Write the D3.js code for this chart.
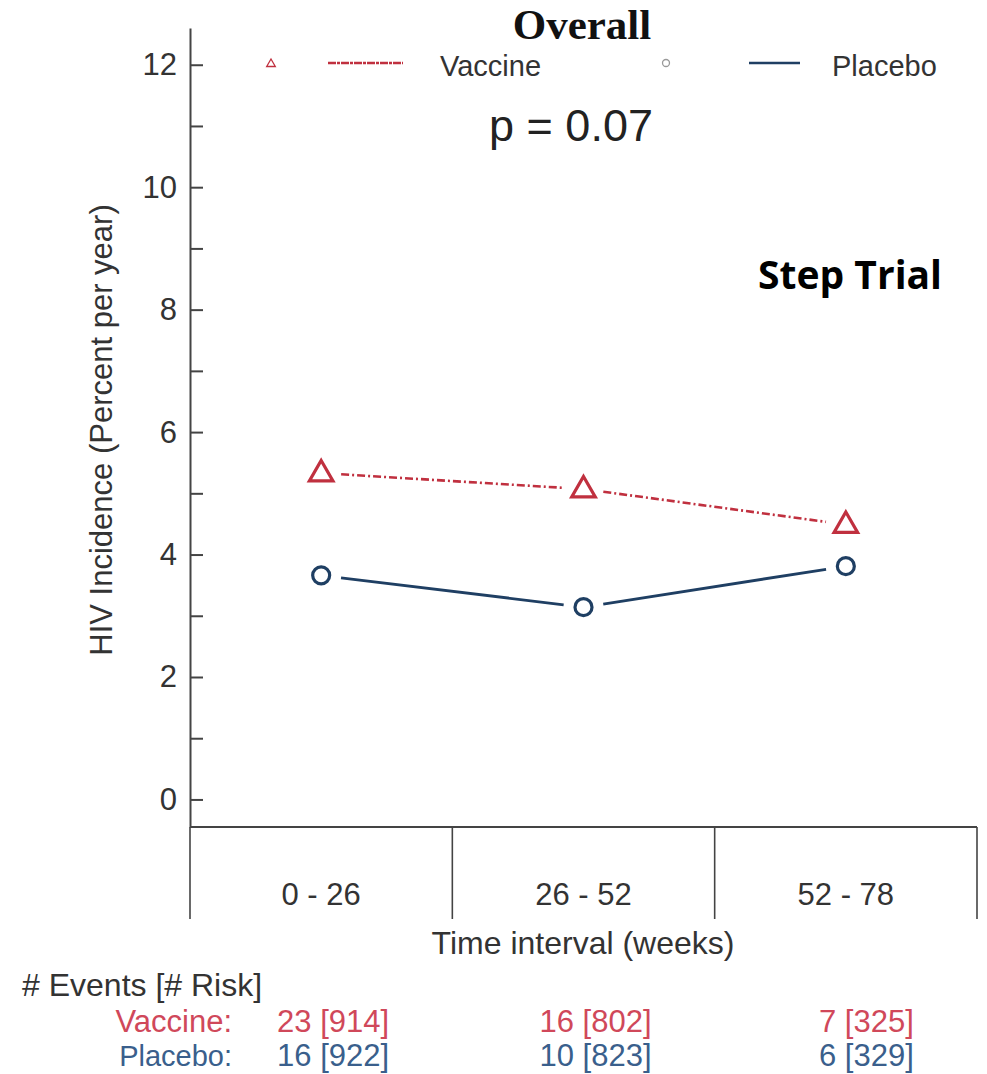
<!DOCTYPE html>
<html>
<head>
<meta charset="utf-8">
<script src="https://cdn.jsdelivr.net/npm/d3@7"></script>
<style>
  body { margin: 0; background: #fff; }
</style>
</head>
<body>
<div id="chart"></div>
<script>
(function() {
  // data
  var intervals = ["0 - 26", "26 - 52", "52 - 78"];
  var vaccineRate = [5.33, 5.07, 4.49];
  var placeboRate = [3.66, 3.14, 3.81];
  var vaccineCounts = ["23 [914]", "16 [802]", "7 [325]"];
  var placeboCounts = ["16 [922]", "10 [823]", "6 [329]"];
  var majorTicks = [0, 2, 4, 6, 8, 10, 12];
  var minorTicks = [1, 3, 5, 7, 9, 11];

  var width = 987, height = 1074;
  var red = "#c0303f", blue = "#1f3f63", axisCol = "#444";
  var vText = "#d0485a", pText = "#3a5f8c";

  var svg = d3.select("#chart")
    .append("svg")
    .attr("width", width)
    .attr("height", height)
    .attr("font-family", "Liberation Sans, Arial, sans-serif");

  var y = d3.scaleLinear().domain([-0.45, 12.6]).range([827, 28]);
  var x = d3.scaleBand().domain(intervals).range([190, 977]).padding(0);
  var cx = function(d) { return x(d) + x.bandwidth() / 2; };

  // y axis, ticks pointing inward
  var yAxis = svg.append("g")
    .attr("transform", "translate(190,0)")
    .call(d3.axisLeft(y).tickValues(majorTicks).tickSizeInner(-13).tickSizeOuter(0).tickPadding(13));
  yAxis.select(".domain").attr("stroke", axisCol).attr("stroke-width", 2);
  yAxis.selectAll(".tick line").attr("stroke", axisCol).attr("stroke-width", 2);
  yAxis.selectAll(".tick text")
    .attr("font-family", "Liberation Sans, Arial, sans-serif")
    .attr("font-size", 31)
    .attr("fill", "#333");

  var yMinor = svg.append("g")
    .attr("transform", "translate(190,0)")
    .call(d3.axisLeft(y).tickValues(minorTicks).tickSizeInner(-13).tickSizeOuter(0).tickFormat(""));
  yMinor.select(".domain").remove();
  yMinor.selectAll(".tick line").attr("stroke", axisCol).attr("stroke-width", 2);

  // x axis: baseline plus interval dividers
  var base = y(-0.45);
  svg.append("line")
    .attr("x1", 190).attr("x2", 977)
    .attr("y1", base).attr("y2", base)
    .attr("stroke", axisCol).attr("stroke-width", 2);

  var edges = [x(intervals[0])].concat(intervals.map(function(d) { return x(d) + x.bandwidth(); }));
  svg.selectAll(".divider")
    .data(edges)
    .enter().append("line")
    .attr("x1", function(d) { return d; })
    .attr("x2", function(d) { return d; })
    .attr("y1", base)
    .attr("y2", base + 92)
    .attr("stroke", axisCol)
    .attr("stroke-width", 1.6);

  svg.selectAll(".xlabel")
    .data(intervals)
    .enter().append("text")
    .attr("x", cx)
    .attr("y", 905)
    .attr("text-anchor", "middle")
    .attr("font-size", 31)
    .attr("fill", "#333")
    .text(function(d) { return d; });

  svg.append("text")
    .attr("x", 583).attr("y", 954)
    .attr("text-anchor", "middle")
    .attr("font-size", 32)
    .attr("fill", "#333")
    .text("Time interval (weeks)");

  svg.append("text")
    .attr("transform", "translate(112,430) rotate(-90)")
    .attr("text-anchor", "middle")
    .attr("font-size", 31)
    .attr("fill", "#333")
    .text("HIV Incidence (Percent per year)");

  // line segments with gaps round the markers
  function segments(vals) {
    var out = [];
    for (var i = 0; i < vals.length - 1; i++) {
      var x1 = cx(intervals[i]), y1 = y(vals[i]);
      var x2 = cx(intervals[i + 1]), y2 = y(vals[i + 1]);
      var len = Math.sqrt((x2 - x1) * (x2 - x1) + (y2 - y1) * (y2 - y1));
      var g = 20 / len;
      out.push([x1 + (x2 - x1) * g, y1 + (y2 - y1) * g, x2 - (x2 - x1) * g, y2 - (y2 - y1) * g]);
    }
    return out;
  }

  svg.selectAll(".vseg")
    .data(segments(vaccineRate))
    .enter().append("line")
    .attr("x1", function(d) { return d[0]; })
    .attr("y1", function(d) { return d[1]; })
    .attr("x2", function(d) { return d[2]; })
    .attr("y2", function(d) { return d[3]; })
    .attr("stroke", red)
    .attr("stroke-width", 2.6)
    .attr("stroke-dasharray", "8,3,2,3");

  svg.selectAll(".pseg")
    .data(segments(placeboRate))
    .enter().append("line")
    .attr("x1", function(d) { return d[0]; })
    .attr("y1", function(d) { return d[1]; })
    .attr("x2", function(d) { return d[2]; })
    .attr("y2", function(d) { return d[3]; })
    .attr("stroke", blue)
    .attr("stroke-width", 2.8);

  var tri = d3.symbol().type(d3.symbolTriangle).size(240);
  svg.selectAll(".vpt")
    .data(vaccineRate)
    .enter().append("path")
    .attr("d", tri)
    .attr("transform", function(d, i) { return "translate(" + cx(intervals[i]) + "," + (y(d) + 1) + ")"; })
    .attr("fill", "#fff")
    .attr("stroke", red)
    .attr("stroke-width", 3.2);

  svg.selectAll(".ppt")
    .data(placeboRate)
    .enter().append("circle")
    .attr("cx", function(d, i) { return cx(intervals[i]); })
    .attr("cy", function(d) { return y(d); })
    .attr("r", 8.5)
    .attr("fill", "#fff")
    .attr("stroke", blue)
    .attr("stroke-width", 3.2);

  // title, legend, annotations
  svg.append("text")
    .attr("x", 582).attr("y", 39)
    .attr("text-anchor", "middle")
    .attr("font-family", "Liberation Serif, Times New Roman, serif")
    .attr("font-weight", "bold")
    .attr("font-size", 43)
    .attr("fill", "#111")
    .text("Overall");

  var legend = svg.append("g");
  legend.append("path")
    .attr("d", d3.symbol().type(d3.symbolTriangle).size(32))
    .attr("transform", "translate(271,64)")
    .attr("fill", "none").attr("stroke", red).attr("stroke-width", 1.3);
  legend.append("line")
    .attr("x1", 328).attr("x2", 403).attr("y1", 63).attr("y2", 63)
    .attr("stroke", red).attr("stroke-width", 2.6)
    .attr("stroke-dasharray", "8,1,3,1");
  legend.append("text")
    .attr("x", 440).attr("y", 76)
    .attr("font-size", 29).attr("fill", "#333")
    .text("Vaccine");
  legend.append("circle")
    .attr("cx", 666).attr("cy", 63).attr("r", 3.5)
    .attr("fill", "none").attr("stroke", "#999").attr("stroke-width", 1.3);
  legend.append("line")
    .attr("x1", 749).attr("x2", 800).attr("y1", 63).attr("y2", 63)
    .attr("stroke", blue).attr("stroke-width", 2.6);
  legend.append("text")
    .attr("x", 832).attr("y", 76)
    .attr("font-size", 29).attr("fill", "#333")
    .text("Placebo");

  svg.append("text")
    .attr("x", 571).attr("y", 141)
    .attr("text-anchor", "middle")
    .attr("font-size", 45)
    .attr("fill", "#222")
    .text("p = 0.07");

  svg.append("text")
    .attr("x", 942).attr("y", 289)
    .attr("text-anchor", "end")
    .attr("font-family", "Open Sans, Liberation Sans, sans-serif")
    .attr("font-weight", "bold")
    .attr("font-size", 39)
    .attr("fill", "#000")
    .text("Step Trial");

  // events table
  svg.append("text")
    .attr("x", 22).attr("y", 996)
    .attr("font-size", 32).attr("fill", "#333")
    .text("# Events [# Risk]");

  svg.append("text")
    .attr("x", 232).attr("y", 1032)
    .attr("text-anchor", "end")
    .attr("font-size", 31).attr("fill", vText)
    .text("Vaccine:");
  svg.append("text")
    .attr("x", 232).attr("y", 1066)
    .attr("text-anchor", "end")
    .attr("font-size", 29).attr("fill", pText)
    .text("Placebo:");

  svg.selectAll(".vcount")
    .data(vaccineCounts)
    .enter().append("text")
    .attr("x", function(d, i) { return cx(intervals[i]) + 68; })
    .attr("y", 1032)
    .attr("text-anchor", "end")
    .attr("font-size", 31).attr("fill", vText)
    .text(function(d) { return d; });

  svg.selectAll(".pcount")
    .data(placeboCounts)
    .enter().append("text")
    .attr("x", function(d, i) { return cx(intervals[i]) + 68; })
    .attr("y", 1066)
    .attr("text-anchor", "end")
    .attr("font-size", 31).attr("fill", pText)
    .text(function(d) { return d; });
})();
</script>
</body>
</html>
